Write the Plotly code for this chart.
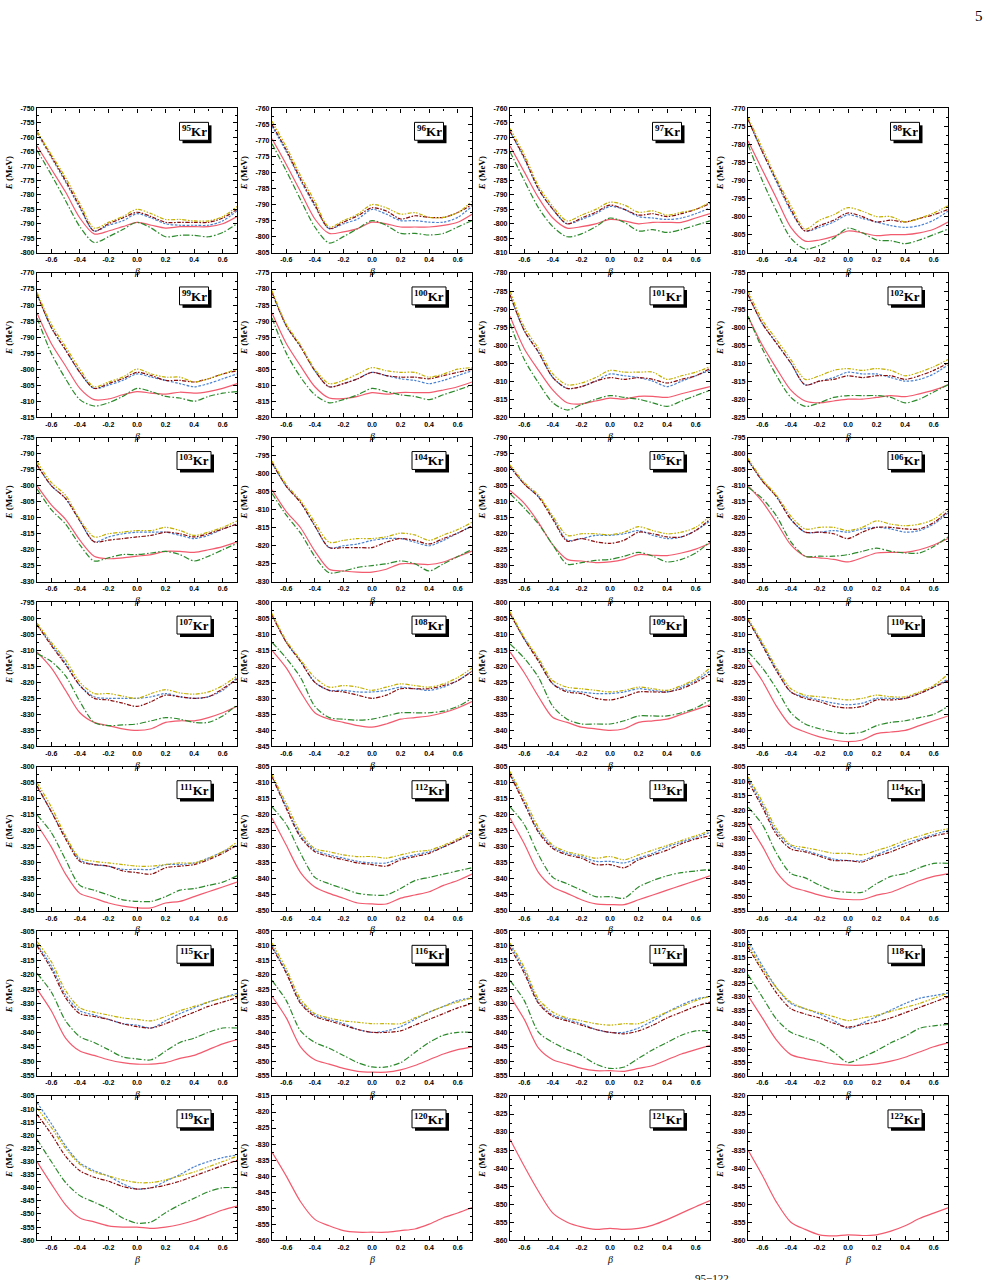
import plotly.graph_objects as go

# ---------------- data ----------------
BETA = [-0.7, -0.6, -0.5, -0.4, -0.3, -0.2, -0.1, 0.0, 0.1, 0.2, 0.3, 0.4, 0.5, 0.6, 0.7]
NUCLEI = list(range(95, 123))
Y_MAX = [-750, -760, -760, -770, -770, -775, -780, -785, -785, -790, -790, -795, -795, -800,
         -800, -800, -800, -805, -805, -805, -805, -805, -805, -805, -805, -815, -820, -820]
Y_MIN = [-800, -805, -810, -810, -815, -820, -820, -825, -830, -830, -835, -840, -840, -845,
         -845, -845, -845, -850, -850, -855, -855, -855, -855, -860, -860, -860, -860, -860]
X_TICKS = [-0.6, -0.4, -0.2, 0.0, 0.2, 0.4, 0.6]
X_TICKTEXT = ["-0.6", "-0.4", "-0.2", "0.0", "0.2", "0.4", "0.6"]

SOLID = {
    95: [-763, -771, -779, -788, -793.5, -792.5, -791, -789.5, -790.5, -791.5, -791, -791, -791, -790, -787.5],
    96: [-769.5, -777.5, -786, -794.5, -799, -798.5, -797.5, -795.5, -796, -797, -797, -797, -796.5, -795.5, -793],
    97: [-773, -782, -791, -798, -801.5, -801, -800, -798.5, -799, -800, -799.5, -799.5, -799.5, -798, -796.5],
    98: [-779, -787, -795, -803, -806.8, -806.5, -805.5, -804, -804.5, -805.3, -805, -805, -804.5, -803.5, -801.5],
    99: [-782.5, -792, -799, -806, -809.5, -809.3, -808, -807, -807.5, -807.8, -807.2, -807.5, -807, -806, -804.5],
    100: [-787.5, -797, -804, -810.5, -814, -814.2, -813.5, -812.3, -812.8, -812.3, -812.3, -812.3, -811.5, -810.5, -809],
    101: [-792, -801, -807, -812.5, -816, -816.3, -815.5, -814.7, -815, -814.2, -814.2, -814.5, -813.5, -812.5, -811.5],
    102: [-797, -805, -811.5, -817.5, -820.5, -821, -820.5, -820, -820, -819.5, -819, -819.3, -818.5, -817.5, -816],
    103: [-800, -806, -810.5, -817, -822, -822.8, -822.5, -822, -821.5, -820.5, -820.5, -820.8, -820, -819, -817.5],
    104: [-804.5, -810.5, -815, -821.5, -826.5, -827, -827.3, -827.3, -826.5, -825, -825, -825.2, -824.5, -823, -821.5],
    105: [-806.5, -810.5, -816.5, -823.5, -828, -828.5, -829, -828.8, -828, -826.5, -826.7, -826.8, -826, -824.8, -823],
    106: [-810, -815, -821.5, -828.5, -832, -832.5, -833, -833.8, -832.5, -831, -830.8, -830.8, -830, -828.5, -826.5],
    107: [-810.5, -815.5, -822.5, -829.5, -832.5, -833.5, -834.5, -835, -834.5, -832.5, -832, -832, -831, -829.5, -827.5],
    108: [-815, -820.5, -828, -834.5, -836.5, -837.5, -838.5, -839, -838, -836.5, -836, -835.5, -834.5, -833, -831],
    109: [-815.5, -822, -829.5, -836, -837.5, -839, -839.5, -840, -839.5, -837.5, -837, -836.5, -835, -833.5, -832],
    110: [-818, -824.5, -832.5, -838.5, -840.5, -842, -843, -843.5, -843, -841, -840.5, -840, -838.5, -837, -835.5],
    111: [-818, -825, -833.5, -839.5, -841, -842.5, -843.5, -844, -844, -842.5, -842, -840.5, -839, -837.5, -836],
    112: [-821, -829.5, -838, -842.5, -844.5, -846, -847.5, -847.8, -847.8, -846, -845, -844, -842, -840.5, -838.5],
    113: [-821, -829, -838, -842.5, -844.5, -846.5, -847.8, -848, -848, -846.5, -845, -843.5, -842, -840.5, -839],
    114: [-824.5, -832.5, -841.5, -846.5, -848, -849.5, -850.5, -851, -851, -849.5, -848.5, -846.5, -844.5, -843, -842],
    115: [-825, -832.5, -842, -846.5, -848, -849.5, -850.5, -851, -851, -850.5, -849, -848, -846, -844, -842.5],
    116: [-827.5, -835, -845, -849.5, -851, -852.5, -853.5, -853.8, -853.8, -853, -851.5, -849.5, -847.5, -846, -845],
    117: [-827.5, -835.5, -845.5, -849.5, -851, -852.5, -853.3, -853.3, -853.5, -852.5, -851.5, -849.5, -847.5, -846, -844.5],
    118: [-829.5, -838, -846.5, -852, -853.5, -854.5, -855.5, -856, -856, -855.5, -854.5, -853, -851, -849, -847.5],
    119: [-830, -838.5, -846.5, -851.5, -853, -854.5, -855, -855, -855.5, -855, -854, -852.5, -850.5, -848.5, -847],
    120: [-832.5, -840, -848, -853.5, -855.5, -857, -857.5, -857.5, -857.5, -857, -856.5, -855, -853, -851.5, -849.8],
    121: [-832, -839.5, -846.5, -852.5, -855, -856.3, -857, -856.7, -857, -856.7, -855.8, -854.3, -852.5, -850.7, -849],
    122: [-835, -842, -849.5, -855, -857, -858.5, -858.8, -858.5, -858.7, -858.5, -857.5, -856, -854, -852.5, -851],
}

GREEN = {
    95: [-764.5, -773, -782, -791, -796.5, -794.5, -792, -789.5, -791.5, -794.5, -794, -794, -794.5, -793, -790],
    96: [-771, -779.5, -788.5, -797, -802, -800, -797.5, -795, -796.5, -799, -799, -799.5, -799, -797, -795],
    97: [-775, -785, -794.5, -801, -804.5, -803.5, -801, -798, -799.5, -802.5, -802, -803, -802, -800.5, -799],
    98: [-780, -790, -798.5, -806, -809, -808, -806, -803.2, -804.5, -806.5, -806.7, -807.5, -806.5, -805, -803.5],
    99: [-784, -795, -803, -809.5, -811.5, -810.5, -808.5, -806, -807, -808.5, -809, -810, -808.5, -807.5, -807],
    100: [-789, -800, -807.5, -813, -815.5, -814.5, -813, -811, -812, -813, -813.5, -814.5, -813, -811.5, -810],
    101: [-794, -804, -810.5, -816, -818, -816.5, -815, -814, -814.5, -815, -816, -817, -815.5, -814, -812.5],
    102: [-797, -806, -813.5, -819.5, -822, -821, -819.5, -819, -819, -819, -819.5, -821, -820, -818, -816],
    103: [-801, -807.5, -812, -818.5, -823.5, -822.5, -821.5, -821.5, -821, -820.5, -821.5, -823.5, -822, -820, -818],
    104: [-805.5, -811.5, -816.5, -823, -827.5, -827, -826, -825.5, -825, -824.2, -825, -827, -825, -823, -821],
    105: [-807.5, -812, -817, -823.5, -829.5, -829, -828.3, -828, -827, -825.8, -827, -828.8, -828, -826, -822.5],
    106: [-810.5, -814, -819.5, -827.5, -832, -832, -832, -831.5, -830.5, -829.5, -830.5, -831, -831, -829, -826],
    107: [-811, -813.5, -818, -826, -832.5, -833.5, -833.3, -833, -832, -831, -831.5, -832.5, -832.5, -830.5, -827],
    108: [-812.5, -817.5, -823.5, -832.5, -836, -836.5, -836.8, -836.5, -835.5, -834.5, -834.5, -834.5, -834, -832.5, -830],
    109: [-813, -817.5, -823.5, -832.5, -836.5, -838, -838, -838, -837, -835.5, -835.5, -835.5, -834.5, -833, -830.5],
    110: [-815.5, -820.5, -827, -834.5, -838, -839.5, -840.5, -841, -840.5, -838.5, -837.5, -837, -836, -835, -832.5],
    111: [-815, -820.5, -829, -837, -838.5, -840, -841.5, -842, -842, -840.5, -838.5, -838, -837, -836, -834],
    112: [-817.5, -823, -832, -839.5, -841.5, -843, -844.5, -845, -845, -843, -840.5, -839.5, -838.5, -837.5, -836.5],
    113: [-817.5, -823, -832.5, -839.5, -841.5, -843.5, -845.5, -845.5, -846, -842.5, -840.5, -839, -838, -837.5, -837],
    114: [-819, -825, -835, -842, -843.5, -846, -848, -848.5, -848.5, -845.5, -843, -842, -840, -838.5, -838.5],
    115: [-819.5, -826, -836, -841.5, -843.5, -846, -848.5, -849.2, -849.5, -846.5, -843.5, -842, -840, -838.5, -838.5],
    116: [-822, -829, -839.5, -843.5, -845.5, -848, -850.5, -852, -852, -850.5, -847, -843.5, -841, -840, -840],
    117: [-822, -829, -840, -843.5, -846, -848, -851, -852.5, -852, -849, -846, -843.5, -841, -839.5, -839.5],
    118: [-821.5, -830, -838.5, -843.5, -845.5, -847.5, -851, -855, -853, -850.5, -847.5, -845, -842, -841, -840.5],
    119: [-821.5, -830, -838, -843, -845.5, -848, -851.5, -853.5, -853, -849.5, -846.5, -844, -841.5, -840, -840],
}

BLUE = {
    95: [-758.5, -767, -775.5, -784.5, -792.5, -790.5, -789, -786.5, -788, -790, -790.5, -790.5, -790.5, -789, -785.5],
    96: [-765.5, -773.5, -782.5, -790.5, -797.5, -796, -794.5, -791.5, -793, -795, -795, -795.5, -795.5, -794, -790.5],
    97: [-768, -777.5, -788, -795, -800, -798.5, -796.5, -794, -795, -797.5, -798, -798.5, -798, -796.5, -794.5],
    98: [-773, -782, -790.5, -798.5, -804, -803, -801.5, -799.5, -800.5, -801.5, -802.5, -803, -802.5, -801, -798.5],
    99: [-776.5, -787, -794, -801, -806, -805, -803.5, -801.5, -802.5, -803.5, -804.5, -805.5, -804.5, -803, -801.5],
    100: [-781, -791.5, -798, -805.5, -810.5, -809.5, -808, -806, -807, -808, -808.5, -809.5, -808.5, -807, -805.5],
    101: [-786, -796, -802, -809, -812, -811.5, -810, -808, -808.5, -809, -810, -811.5, -810, -808.5, -807],
    102: [-791, -799, -804.5, -810, -816, -815, -814, -812.5, -813, -813, -814, -815, -814.5, -813, -810.5],
    103: [-793.5, -800, -804, -811, -817.5, -816, -815, -814.5, -814.5, -814.5, -815.5, -816.5, -815.5, -813.5, -812],
    104: [-797, -803.5, -808, -814.5, -820.5, -820, -819.5, -818.5, -818, -818, -819, -820, -818.5, -816.5, -814.5],
    105: [-799, -804.5, -808.5, -815, -822, -821.5, -820.5, -820.5, -820, -819, -820.5, -821.5, -821, -819, -816],
    106: [-802, -808.5, -813.5, -820.5, -824.5, -824.5, -824, -824.5, -823.5, -823, -823.5, -824.5, -824, -822, -818.5],
    107: [-802, -808, -814, -821, -824.5, -825, -825, -825, -824.5, -823.5, -824.5, -825, -824.5, -822.5, -818.5],
    108: [-804, -812.5, -818.5, -825, -827.5, -827.5, -828, -828, -827.5, -826.5, -827, -827.5, -826.5, -824.5, -821.5],
    109: [-803.5, -811.5, -818, -825.5, -827.5, -828, -828.5, -828.5, -828, -827, -827.5, -828, -826.5, -824.5, -821.5],
    110: [-805.5, -813, -821, -828, -829.5, -830.5, -831.5, -832, -831.5, -830, -830, -830, -828.5, -826.5, -824],
    111: [-806, -814, -822, -829, -830.5, -831, -832, -832, -832, -830.5, -830.5, -830, -828.5, -826.5, -824.5],
    112: [-808, -817.5, -826.5, -831, -832.5, -833.5, -834.5, -835, -835, -833.5, -832.5, -831.5, -830, -828, -825.5],
    113: [-807, -816, -825, -830, -832, -833, -834.5, -834.5, -835, -833.5, -832, -830, -828.5, -827, -825.5],
    114: [-809, -818, -827.5, -832.5, -834, -835.5, -837, -837.5, -837.5, -835.5, -833.5, -831.5, -830, -828.5, -827],
    115: [-809.5, -817, -827, -832.5, -834, -835.5, -837, -837.5, -838.5, -836, -833.5, -831.5, -829.5, -828, -826.5],
    116: [-810, -819, -829.5, -834, -835.5, -837, -839, -840, -839.5, -838, -835.5, -833, -831, -829, -828],
    117: [-809.5, -818.5, -829.5, -834, -835.5, -837, -839, -840, -840, -838.5, -836, -833, -830.5, -828.5, -827.5],
    118: [-808.5, -818, -826.5, -832.5, -834.5, -836.5, -839, -842, -840, -837.5, -835, -832.5, -830.5, -829.5, -828.5],
    119: [-807.5, -815.5, -824, -830.5, -833.5, -835.5, -838.5, -840.5, -840, -837.5, -835, -832, -830, -828.5, -827.5],
}

DARKRED = {
    95: [-758, -766.5, -775, -784, -792.5, -790, -788, -786, -787.5, -789.5, -789.5, -789.5, -789.5, -788, -785],
    96: [-765, -773, -782, -790, -797.5, -795.5, -793.5, -791, -792, -794.5, -793.5, -794, -794, -792.5, -790],
    97: [-768, -777, -788, -795, -800, -798, -796, -793.5, -795, -797, -796.5, -797.5, -796.5, -795, -793],
    98: [-773, -782, -790, -798, -804, -802.5, -801, -799, -800, -801.5, -801, -801.5, -800.5, -799.5, -798],
    99: [-776.5, -787, -794, -801, -806, -804.5, -803, -801, -802, -803.5, -803.5, -804, -803, -801.5, -800.5],
    100: [-781, -791.5, -798, -805.5, -810.5, -809.5, -808, -806, -807, -807.5, -807.5, -808, -807, -806, -805],
    101: [-786, -796, -802, -809, -812, -811.5, -810, -809, -809.5, -809, -809.5, -810.5, -809.5, -808.5, -806.5],
    102: [-791, -799, -804.5, -810, -816, -815, -814.5, -813.5, -814, -813.5, -813.5, -814.5, -813.5, -812, -810],
    103: [-793.5, -800, -804, -811, -817.5, -817, -816.5, -816, -815.5, -814.5, -815, -816, -815, -813.5, -812],
    104: [-797, -803.5, -808, -814.5, -820.5, -820.5, -820.5, -820.5, -819, -818, -818.5, -819.5, -818, -816.5, -814.5],
    105: [-799, -804.5, -808.5, -815.5, -822.3, -821.5, -822.5, -823, -822, -819.5, -820, -821, -821, -819, -815.5],
    106: [-802, -808.5, -813.5, -820.5, -824.5, -824.5, -825, -826.5, -824.5, -823, -823, -823.5, -823.5, -821.5, -818],
    107: [-802, -808.5, -814.5, -821, -825, -825.5, -826.5, -827.5, -826, -824, -824.5, -825, -824.5, -822, -819],
    108: [-804, -812.5, -818.5, -825, -827.5, -828, -829, -830, -829, -827, -827, -827, -826, -824.5, -821.5],
    109: [-803.5, -811.5, -818.5, -825.5, -828, -828.5, -830, -830.5, -829.5, -828, -828, -828, -827, -825, -822.5],
    110: [-805.5, -813.5, -821.5, -828, -830, -831, -832.5, -833, -832.5, -830.5, -830.5, -830, -828.5, -826.5, -824.5],
    111: [-806, -814, -822.5, -829.5, -830.5, -831, -832.5, -833, -833.5, -831.5, -831, -830.5, -829, -827, -824.5],
    112: [-808, -818, -827, -831.5, -833, -834, -835, -835.5, -836, -834, -833, -832, -830, -828, -826],
    113: [-807.5, -816.5, -825.5, -830.5, -832.5, -833.5, -835.5, -835.5, -836.5, -834, -832.5, -831, -829, -827.5, -826.5],
    114: [-810, -819, -828.5, -833.5, -834.5, -836, -837.5, -837.5, -838, -836, -834.5, -832.5, -830.5, -829, -828],
    115: [-810, -818, -828, -833.5, -834.5, -835.5, -837, -838, -838.5, -837, -835, -833, -831, -829.5, -828],
    116: [-810.5, -819.5, -830, -834.5, -836, -837.5, -839, -840, -840, -839.5, -837.5, -835.5, -833.5, -831.5, -830],
    117: [-810.5, -819.5, -830, -834.5, -836, -837.5, -839, -840, -840.5, -839.5, -837.5, -835, -833, -831, -829.5],
    118: [-811, -820, -828.5, -834.5, -836.5, -838, -840, -841.5, -840.5, -839.5, -838, -836, -834, -832, -830],
    119: [-812, -819.5, -828, -833.5, -836, -837.5, -839.5, -840.5, -840, -839, -837.5, -835.5, -833.5, -831.5, -829.5],
}

YELLOW = {
    95: [-758, -766, -774, -783, -791.5, -789.5, -787.5, -785, -786.5, -788.5, -788.5, -789, -789, -787.5, -784],
    96: [-764, -772, -781, -789, -797, -795, -793, -790, -791, -793, -792.5, -794, -794, -792.5, -789],
    97: [-767, -776, -787, -794, -799, -797, -795, -792.5, -793.5, -796, -795.5, -797, -796, -795, -792.5],
    98: [-772.5, -781, -789.5, -797, -803.5, -801, -799.5, -797.5, -798.5, -800, -800, -801.5, -800.5, -799, -797],
    99: [-776, -786, -793, -800, -805.5, -804, -802.5, -800, -801.5, -802.5, -802.5, -804, -803, -801.5, -800],
    100: [-780.5, -791, -797.5, -805, -809.5, -808.5, -806.5, -804.5, -805.5, -806, -806, -807.5, -806.5, -805, -804.5],
    101: [-785, -795, -801, -808, -811, -810.5, -809, -807, -807.5, -807.5, -807.5, -809.5, -808.5, -807.5, -806],
    102: [-790, -798, -803.5, -809, -814.5, -813.5, -812, -811.5, -812, -811.5, -812, -813.5, -812.5, -811, -809],
    103: [-792.5, -799, -803, -810.5, -816, -815, -814.5, -814, -814, -813, -814, -815.5, -814.5, -813, -811],
    104: [-796.5, -803, -807.5, -813.5, -819, -818.5, -818, -818, -817.5, -816.5, -817, -818.5, -817, -815.5, -813.5],
    105: [-798.5, -804, -808, -814.5, -820.5, -820, -820, -820.3, -819.5, -817.8, -819, -820, -819.5, -818, -814.5],
    106: [-801.5, -808, -813, -819.5, -823.5, -823, -823, -824, -823, -821, -822, -822.5, -822, -820.5, -817],
    107: [-801.5, -807.5, -813, -820, -823.5, -823.5, -824.3, -825, -823.5, -822.3, -823.3, -823.7, -823, -821, -818],
    108: [-803.5, -812, -818, -823.5, -826.5, -826, -826.5, -827.5, -826.5, -825.5, -826, -826.5, -825.5, -823.5, -820.5],
    109: [-803, -811, -817.5, -824.5, -826.5, -827, -827.5, -828, -827.5, -826.5, -827, -827.5, -826, -824, -820.5],
    110: [-805, -812.5, -820.5, -827, -829, -829.5, -830, -830.5, -830, -829, -829.5, -829.5, -828, -826, -822.5],
    111: [-805, -812.5, -821.5, -828.5, -829.5, -830, -830.5, -831, -831, -830.5, -830, -830, -828.5, -826.5, -823.5],
    112: [-807.5, -816.5, -825.5, -830.5, -831.5, -832.5, -833, -833, -833.5, -832.5, -831.5, -831, -829.5, -827.5, -825],
    113: [-806.5, -815, -824, -829.5, -831.5, -832.5, -833.5, -833, -834, -832.5, -831, -829.5, -828, -826.5, -825],
    114: [-808.5, -817, -826.5, -832, -833, -834, -835, -835, -835.5, -834, -832.5, -830.5, -829, -827.5, -826.5],
    115: [-808.5, -815.5, -825.5, -831.5, -833, -834, -835, -835.5, -836, -834.5, -832.5, -831, -829.5, -828, -827],
    116: [-809, -818, -828.5, -833.5, -835, -836, -836.5, -837, -837, -837, -835, -833, -831, -829.5, -828],
    117: [-809, -817.5, -828.5, -833, -835, -836, -837, -837.5, -837, -837, -835, -833, -831, -829, -827.5],
    118: [-810, -819, -826.5, -832, -834.5, -836, -837.5, -839, -838, -837, -835.5, -834, -832.5, -830.5, -828.5],
    119: [-809.5, -817, -825, -831, -834, -835.5, -837, -838, -838, -837, -835.5, -834, -832, -830, -828],
}

# ---------------- styling / layout ----------------
W, H = 991, 1280
COL_LEFT = [37, 272, 510, 748]
PANEL_W = 200
ROW_TOP0 = 105
ROW_STEP = 165.5
PANEL_H = 145

SERIES = [
    (SOLID, "#f25a6e", "solid"),
    (GREEN, "#2b8a2b", "6px,2px,1.5px,2px"),
    (BLUE, "#4a82d2", "2.5px,1.5px"),
    (DARKRED, "#8b0a0a", "4px,1.5px,1.5px,1.5px"),
    (YELLOW, "#c4b000", "4px,1.5px,1.5px,1.5px,1.5px,1.5px"),
]

TICKFONT = dict(family="Liberation Sans, Arial", size=7, color="black", weight="bold")
SERIF = "Liberation Serif, Times New Roman, serif"


def px_x(v):
    return v / W


def px_y(v):
    return 1 - v / H


fig = go.Figure()
layout = {}
annotations = []
shapes = []

for i, A in enumerate(NUCLEI):
    r, c = divmod(i, 4)
    n = i + 1
    sfx = "" if n == 1 else str(n)
    x0 = COL_LEFT[c]
    x1 = x0 + PANEL_W
    y0 = ROW_TOP0 + r * ROW_STEP
    y1 = y0 + PANEL_H
    lo, hi = Y_MIN[i], Y_MAX[i]
    yt = list(range(lo, hi + 1, 5))

    layout["xaxis" + sfx] = dict(
        domain=[px_x(x0), px_x(x1)], anchor="y" + sfx, range=[-0.7, 0.7],
        tickmode="array", tickvals=X_TICKS, ticktext=X_TICKTEXT,
        ticks="inside", ticklen=4, tickwidth=1, tickcolor="black",
        showline=True, linecolor="black", linewidth=1.2, mirror="allticks",
        showgrid=False, zeroline=False, tickfont=TICKFONT,
        minor=dict(ticks="inside", ticklen=2, tickcolor="black", tickmode="array",
                   tickvals=[-0.7, -0.5, -0.3, -0.1, 0.1, 0.3, 0.5, 0.7]),
        fixedrange=True,
    )
    layout["yaxis" + sfx] = dict(
        domain=[px_y(y1), px_y(y0)], anchor="x" + sfx, range=[lo, hi],
        tickmode="array", tickvals=yt, ticktext=[str(v) for v in yt],
        ticks="inside", ticklen=4, tickwidth=1, tickcolor="black",
        showline=True, linecolor="black", linewidth=1.2, mirror="allticks",
        showgrid=False, zeroline=False, tickfont=TICKFONT,
        minor=dict(ticks="inside", ticklen=2, tickcolor="black", tickmode="array",
                   tickvals=[v + 2.5 for v in yt[:-1]]),
        fixedrange=True,
    )

    for data, color, dash in SERIES:
        if A in data:
            fig.add_trace(go.Scatter(
                x=BETA, y=data[A], xaxis="x" + sfx, yaxis="y" + sfx, mode="lines",
                line=dict(color=color, width=1.2, dash=dash, shape="spline", smoothing=0.8),
                showlegend=False, hoverinfo="skip"))

    # nucleus label box with drop shadow (shapes) and text
    cx = x0 + 0.785 * PANEL_W
    cy = y0 + 23
    bw = 29 if A < 100 else 34
    bh = 18
    bl, br = cx - bw / 2, cx + bw / 2
    bt, bb = cy - bh / 2, cy + bh / 2
    shapes.append(dict(type="rect", xref="paper", yref="paper",
                       x0=px_x(bl + 3), x1=px_x(br + 3), y0=px_y(bb + 3), y1=px_y(bt + 3),
                       fillcolor="black", line=dict(width=0), layer="above"))
    shapes.append(dict(type="rect", xref="paper", yref="paper",
                       x0=px_x(bl), x1=px_x(br), y0=px_y(bb), y1=px_y(bt),
                       fillcolor="white", line=dict(color="black", width=1), layer="above"))
    annotations.append(dict(
        x=px_x(cx), y=px_y(cy), xref="paper", yref="paper",
        text=f"<sup>{A}</sup>Kr", showarrow=False, xanchor="center", yanchor="middle",
        font=dict(family=SERIF, size=13, color="black", weight="bold")))

    # axis titles
    annotations.append(dict(
        x=px_x(x0 - 28), y=px_y(y0 + 0.45 * PANEL_H), xref="paper", yref="paper",
        xanchor="center", yanchor="middle",
        text="<i>E</i> (MeV)", textangle=-90, showarrow=False,
        font=dict(family=SERIF, size=9, color="black", weight="bold")))
    annotations.append(dict(
        x=px_x(x0 + PANEL_W / 2), y=px_y(y1 + 19), xref="paper", yref="paper",
        xanchor="center", yanchor="middle",
        text="<i>β</i>", showarrow=False,
        font=dict(family=SERIF, size=10, color="black")))

# page number and cut-off caption
annotations.append(dict(x=px_x(979), y=px_y(12), xref="paper", yref="paper", text="5",
                        xanchor="center", yanchor="middle",
                        showarrow=False, font=dict(family=SERIF, size=15, color="black")))
annotations.append(dict(x=px_x(712), y=px_y(1281), xref="paper", yref="paper",
                        text="95−122", showarrow=False, xanchor="center", yanchor="middle",
                        font=dict(family=SERIF, size=11, color="black")))

fig.update_layout(
    width=W, height=H, margin=dict(l=0, r=0, t=0, b=0),
    paper_bgcolor="white", plot_bgcolor="white",
    annotations=annotations, shapes=shapes, **layout)

fig.write_html("out.html")
